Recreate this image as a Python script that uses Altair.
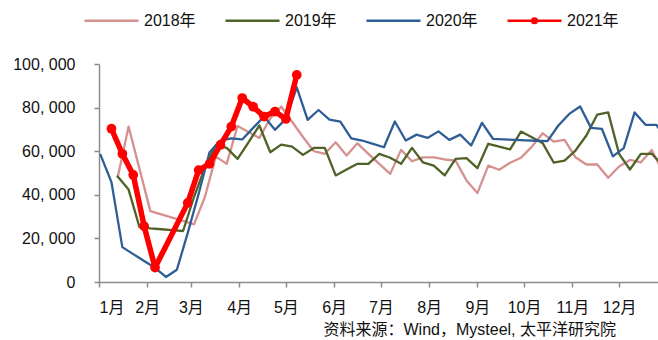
import altair as alt
import pandas as pd

# Weekly series, one list per year (None = week without a reading)
years = ["2018年", "2019年", "2020年", "2021年"]
colors = ["#D4918F", "#4F6228", "#2F5D95", "#FF0000"]
line_widths = [2.3, 2.3, 2.3, 5.5]
start_day = [12, 12, 1, 8]          # day of year of the first weekly reading
week_step = 7

v2018 = [48100, 71300, 51900, 32500, 31000, 29500, 28000, 26400, 39000, 57500,
         54200, 71600, 68800, 66100, 75000, 80500, 73500, 66500, 60000, 58800,
         64100, 58000, 63600, 58800, 54200, 49600, 60600, 55400, 57200, 57200,
         56200, 55700, 46600, 40800, 53400, 51500, 54700, 57000, 62100, 68200,
         64400, 65200, 57200, 53900, 53900, 47800, 53000, 56000, 54900, 60600,
         50500]
v2019 = [48400, 42400, 25200, 24600, 24200, 23800, 23400, 39000, 52500, 62800,
         61500, 56500, 64100, 71800, 59500, 63000, 62100, 58300, 61500, 61500,
         48900, 51600, 54200, 54200, 58800, 57000, 54200, 61500, 54900, 53400,
         48900, 56500, 56800, 52200, 63400, 62100, 60800, 69000, 66400, 63600,
         54800, 55700, 60300, 67200, 76800, 77800, 58800, 51600, 58800, 58800,
         53500]
v2020 = [58300, 45800, 16000, 12800, 9600, 6500, 2300, 5600, 22500, 40500,
         59500, 64900, 65900, 65400, 70700, 75900, 69800, 74800, 89300, 74400,
         78900, 74500, 73600, 65900, 64900, 63400, 61800, 73600, 64900, 67600,
         66100, 69100, 65200, 67600, 62600, 73000, 65700, 65400, 65200, 65000,
         64800, 64600, 71800, 77100, 80500, 70700, 70200, 57600, 61400, 77800,
         72100, 72100, 64500]
v2021 = [70300, 58800, 49100, 25600, 6600, None, None, 36300, 51300, 54200,
         62900, 71300, 84400, 80400, 75900, 78200, 74800, 95000]

month_ticks = [0, 31, 59, 90, 120, 151, 181, 212, 243, 273, 304, 334]
month_labels = ["1月", "2月", "3月", "4月", "5月", "6月",
                "7月", "8月", "9月", "10月", "11月", "12月"]
y_ticks = [0, 20000, 40000, 60000, 80000, 100000]
source_note = "资料来源：Wind，Mysteel, 太平洋研究院"

rows = []
for year, start, vals in zip(years, start_day, [v2018, v2019, v2020, v2021]):
    for i, v in enumerate(vals):
        if v is not None:
            rows.append({"year": year, "day": start + week_step * i, "value": v})
df = pd.DataFrame(rows)

FONT = "Liberation Sans, Noto Sans CJK SC"
AXIS_GREY = "#8C8C8C"

month_expr = (
    "[" + ",".join(f"'{m}'" for m in month_labels) + "]"
    + "[indexof([" + ",".join(str(t) for t in month_ticks) + "], datum.value)]"
)

x_enc = alt.X(
    "day:Q",
    scale=alt.Scale(domain=[0, 359], nice=False, zero=False),
    axis=alt.Axis(
        values=month_ticks, labelExpr=month_expr, grid=False,
        domainColor=AXIS_GREY, domainWidth=1.5, tickColor=AXIS_GREY,
        tickWidth=1.5, tickSize=5, labelFontSize=16, labelColor="#111111",
        labelPadding=12, labelFont=FONT,
        title=source_note, titleFont=FONT, titleFontSize=16,
        titleFontWeight="normal", titleColor="#111111", titleAlign="left",
        titleAnchor="start", titleX=224, titleY=47, titleBaseline="middle",
    ),
)
y_enc = alt.Y(
    "value:Q",
    scale=alt.Scale(domain=[0, 100000], nice=False),
    axis=alt.Axis(
        values=y_ticks, labelExpr="replace(format(datum.value, ','), ',', ', ')",
        grid=False, domainColor=AXIS_GREY, domainWidth=1.5,
        tickColor=AXIS_GREY, tickWidth=1.5, tickSize=5, labelFontSize=16,
        labelColor="#111111", labelPadding=19, labelFont=FONT, title=None,
    ),
)

color_scale = alt.Scale(domain=years, range=colors)

layers = []
for year, col, w in zip(years, colors, line_widths):
    layers.append(
        alt.Chart(df)
        .transform_filter(alt.datum.year == year)
        .mark_line(clip=True, strokeJoin="round", strokeCap="round")
        .encode(
            x=x_enc, y=y_enc,
            color=alt.Color("year:N", scale=color_scale, legend=None),
            strokeWidth=alt.value(w),
        )
    )

# markers on the 2021 series
markers = (
    alt.Chart(df)
    .transform_filter(alt.datum.year == "2021年")
    .mark_circle(size=95, opacity=1, clip=True)
    .encode(x=x_enc, y=y_enc,
            color=alt.Color("year:N", scale=color_scale, legend=None))
)

# invisible points that carry the legend (line symbols, dot on 2021)
dot_line = "M-1,0H1M-0.09,0A0.09,0.09,0,1,1,0.09,0A0.09,0.09,0,1,1,-0.09,0"
legend_carrier = (
    alt.Chart(df)
    .mark_point(filled=False, opacity=0)
    .encode(
        x=x_enc, y=y_enc,
        color=alt.Color(
            "year:N", scale=color_scale,
            legend=alt.Legend(
                title=None, orient="none", direction="horizontal",
                legendX=-16, legendY=-72, symbolSize=2916, symbolOpacity=1,
                labelFontSize=16, labelFont=FONT, labelColor="#111111",
                labelOffset=4, columnPadding=24, padding=0,
            ),
        ),
        shape=alt.Shape("year:N", scale=alt.Scale(
            domain=years, range=["stroke", "stroke", "stroke", dot_line])),
        strokeWidth=alt.StrokeWidth("year:N", scale=alt.Scale(
            domain=years, range=line_widths)),
    )
)

chart = (
    alt.layer(*layers, markers, legend_carrier)
    .resolve_legend(color="independent", shape="independent",
                    strokeWidth="independent")
    .properties(
        width=559, height=218,
        autosize=alt.AutoSizeParams(type="none"),
        padding={"left": 99, "top": 64, "right": 0, "bottom": 58},
        background="white",
    )
    .configure_view(stroke=None)
)

chart.save("out.html", embed_options={"renderer": "svg", "actions": False})
